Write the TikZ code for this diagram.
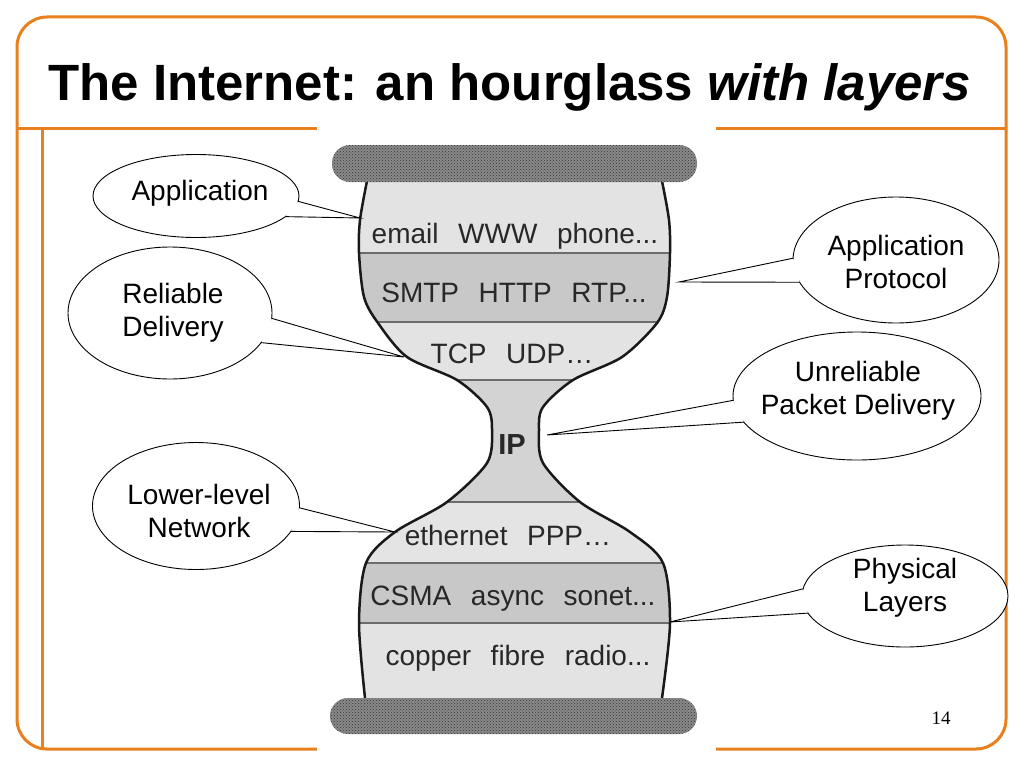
\documentclass[tikz,border=0pt]{standalone}
\usepackage{fontspec}
\setmainfont{Liberation Sans}
\newfontfamily\numfont{Liberation Serif}
\usetikzlibrary{shapes.geometric, patterns}
\definecolor{frameorange}{HTML}{E8801E}
\definecolor{bandlight}{HTML}{E3E3E3}
\definecolor{banddark}{HTML}{C8C8C8}
\definecolor{bandmid}{HTML}{D3D3D3}
\definecolor{capgray}{HTML}{8A8A8A}
\definecolor{inkgray}{HTML}{282828}
\newcommand{\lsp}{\hspace{0.7em}}
\tikzstyle{frameline} = [draw=frameorange, line width=3pt]
\tikzstyle{capbar} = [rounded corners=18pt, fill=capgray, postaction={pattern=crosshatch dots, pattern color=black!80}]
\tikzstyle{bandline} = [draw=gray!85!black, line width=2.5pt]
\tikzstyle{hgline} = [draw=black!90, line width=2.5pt]
\tikzstyle{layertext} = [anchor=base, text=inkgray, inner sep=0pt, font=\fontsize{28}{34}\selectfont]
\tikzstyle{bubble} = [ellipse, draw=black, fill=white, line width=0.9pt, inner sep=0pt, outer sep=0pt]
\tikzstyle{bubbletext} = [align=center, inner sep=0pt, font=\fontsize{28}{33}\selectfont]
\tikzstyle{tailline} = [draw=black, line width=0.9pt, line join=miter]
\def\leftside{(367,181) (360,220) (359,253) (364,297) (378,323) (407,357) (457,380) (487,407) (492,430) (487,463) (447,502) (395,532) (366,563) (359,623) (365,698)}
\def\rightside{(662,181) (669,220) (670,253) (667,297) (657,323) (622,357) (573,380) (543,407) (539,430) (543,463) (580,502) (630,532) (663,563) (670,623) (662,698)}
\def\rightsideup{(662,698) (670,623) (663,563) (630,532) (580,502) (543,463) (539,430) (543,407) (573,380) (622,357) (657,323) (667,297) (670,253) (669,220) (662,181)}

\begin{document}
\begin{tikzpicture}[x=1pt, y=-1pt]
\useasboundingbox (0,0) rectangle (1024,768);
\fill[white] (0,0) rectangle (1024,768);

\draw[frameline, rounded corners=30pt] (17,17) rectangle (1006,749);
\draw[frameline] (17,128) -- (1006,128);
\draw[frameline] (42,128) -- (42,749);
\fill[white] (317,126) rectangle (716,768);

\node (title) [anchor=base west, inner sep=0pt, font=\fontsize{51}{60}\selectfont\bfseries] at (48,100) {The Internet: an hourglass \textit{with layers}};

\begin{scope}
\clip plot[smooth] coordinates {\leftside} -- plot[smooth] coordinates {\rightsideup} -- cycle;
\fill[bandlight] (300,170) rectangle (730,253);
\fill[banddark] (300,253) rectangle (730,322);
\fill[bandlight] (300,322) rectangle (730,380);
\fill[bandmid] (300,380) rectangle (730,502);
\fill[bandlight!95!white] (300,502) rectangle (730,563);
\fill[banddark] (300,563) rectangle (730,623);
\fill[bandlight] (300,623) rectangle (730,710);
\foreach \y in {253,322,380,502,563,623}
  \draw[bandline] (300,\y) -- (730,\y);
\end{scope}
\draw[hgline] plot[smooth] coordinates {\leftside};
\draw[hgline] plot[smooth] coordinates {\rightside};

\fill[capbar] (332,145) rectangle (697,182);
\fill[capbar] (330,698) rectangle (697,734);

\node (email) [layertext] at (515,243) {email\lsp WWW\lsp phone...};
\node (smtp) [layertext] at (514,302) {SMTP\lsp HTTP\lsp RTP...};
\node (tcp) [layertext] at (512,363) {TCP\lsp UDP\ldots};
\node (ip) [layertext, font=\fontsize{29}{32}\selectfont\bfseries] at (512,454) {IP};
\node (eth) [layertext] at (508,545) {ethernet\lsp PPP\ldots};
\node (csma) [layertext] at (513,605) {CSMA\lsp async\lsp sonet...};
\node (copper) [layertext] at (518,665) {copper\lsp fibre\lsp radio...};

\coordinate (appTip) at (360,218);
\coordinate (relTip) at (404,357);
\coordinate (protoTip) at (679,282);
\coordinate (unrelTip) at (547,435);
\coordinate (lowTip) at (395,532);
\coordinate (physTip) at (670,622);

\node (app) [bubble, minimum width=206pt, minimum height=83pt] at (196,196) {};
\node (rel) [bubble, minimum width=204pt, minimum height=132pt] at (170,313) {};
\node (proto) [bubble, minimum width=206pt, minimum height=126pt] at (896,260) {};
\node (unrel) [bubble, minimum width=248pt, minimum height=128pt] at (857,396) {};
\node (low) [bubble, minimum width=207pt, minimum height=127pt] at (196,506) {};
\node (phys) [bubble, minimum width=206pt, minimum height=102pt] at (905,596) {};

\fill[white] (app.-3) -- (appTip) -- (app.-13) -- cycle;
\draw[tailline] (app.-3) -- (appTip) -- (app.-13);
\fill[white] (rel.-3) -- (relTip) -- (rel.-18) -- cycle;
\draw[tailline] (rel.-3) -- (relTip) -- (rel.-18);
\fill[white] (proto.179) -- (protoTip) -- (proto.193) -- cycle;
\draw[tailline] (proto.179) -- (protoTip) -- (proto.193);
\fill[white] (unrel.182) -- (unrelTip) -- (unrel.193) -- cycle;
\draw[tailline] (unrel.182) -- (unrelTip) -- (unrel.193);
\fill[white] (low.-1) -- (lowTip) -- (low.-15) -- cycle;
\draw[tailline] (low.-1) -- (lowTip) -- (low.-15);
\fill[white] (phys.176) -- (physTip) -- (phys.190) -- cycle;
\draw[tailline] (phys.176) -- (physTip) -- (phys.190);

\node (appTxt) [bubbletext] at (200,193) {Application};
\node (relTxt) [bubbletext] at (173,313) {Reliable\\Delivery};
\node (protoTxt) [bubbletext] at (896,262) {Application\\Protocol};
\node (unrelTxt) [bubbletext] at (858,391) {Unreliable\\Packet Delivery};
\node (lowTxt) [bubbletext] at (199,511) {Lower-level\\Network};
\node (physTxt) [bubbletext] at (905,588) {Physical\\Layers};

\node (pgnum) [font=\numfont\fontsize{19}{22}\selectfont] at (941,718) {14};
\end{tikzpicture}
\end{document}
